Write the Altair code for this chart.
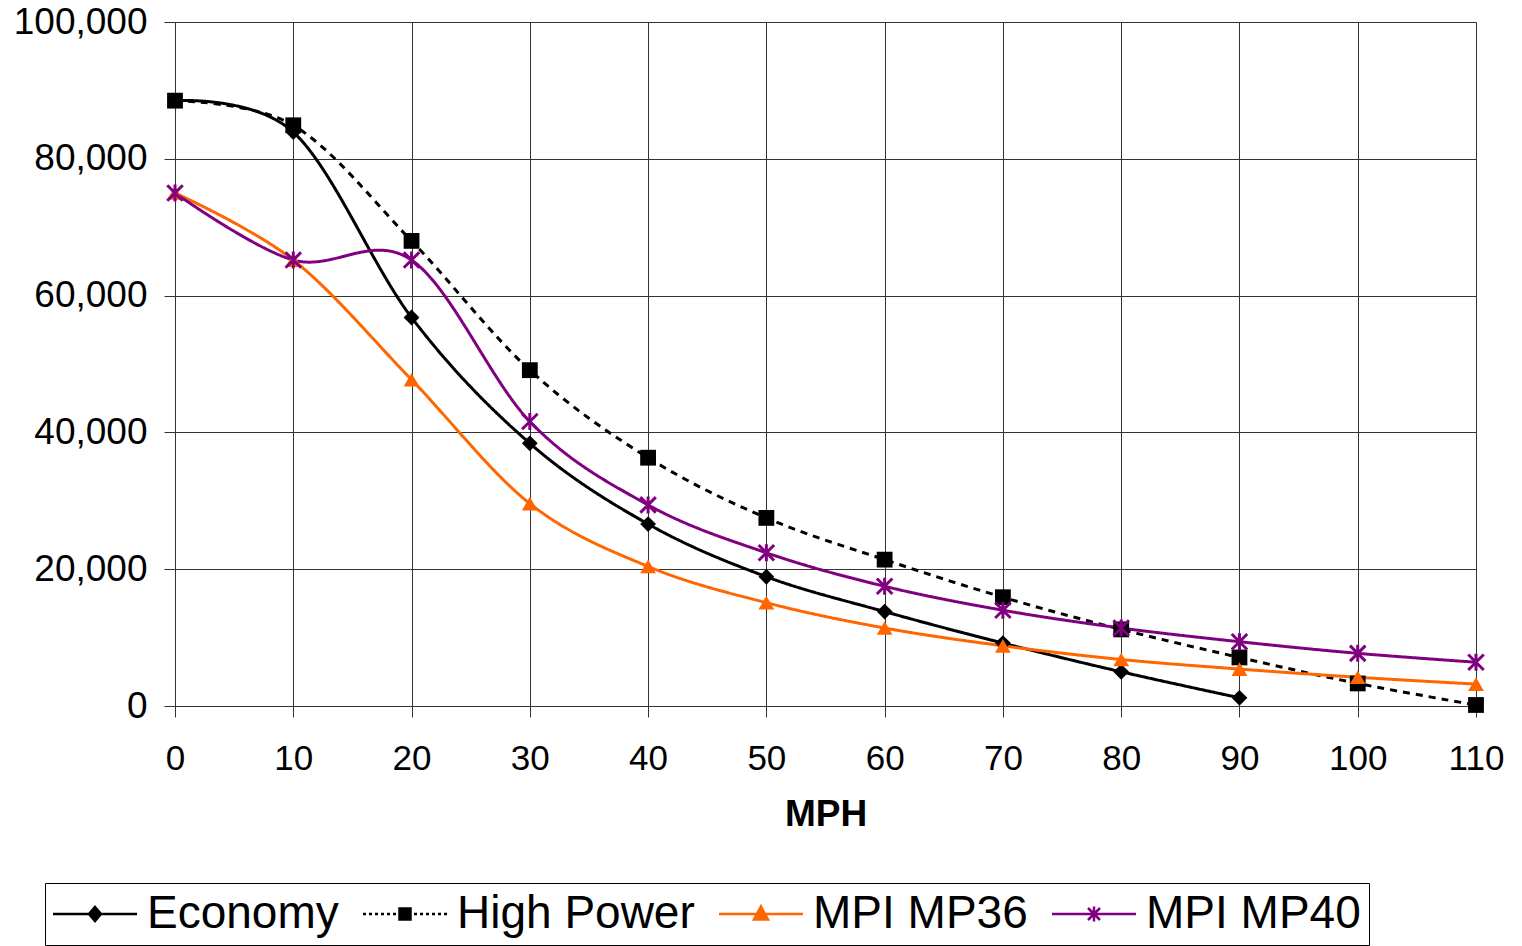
import altair as alt
import pandas as pd

mph = [0, 10, 20, 30, 40, 50, 60, 70, 80, 90, 100, 110]
economy = [88500, 83900, 56800, 38400, 26600, 18900, 13800, 9200, 5000, 1200, None, None]
high_power = [88500, 84900, 68000, 49100, 36300, 27500, 21400, 15900, 11200, 7100, 3300, 150]
mp36 = [75000, 65200, 47700, 29600, 20400, 15100, 11400, 8800, 6800, 5400, 4200, 3200]
mp40 = [75000, 65200, 65200, 41600, 29400, 22400, 17500, 14000, 11400, 9400, 7700, 6400]

series = ["Economy", "High Power", "MPI MP36", "MPI MP40"]
colors = ["#000000", "#000000", "#FF6600", "#800080"]
y_ticks = [0, 20000, 40000, 60000, 80000, 100000]
x_ticks = mph

rows = []
for name, vals in zip(series, [economy, high_power, mp36, mp40]):
    for x, v in zip(mph, vals):
        if v is not None:
            rows.append({"mph": x, "val": v, "series": name})
df = pd.DataFrame(rows)

FONT = "Liberation Sans"
GRID = "#333333"
ASTERISK = "M-1,-1L1,1M-1,1L1,-1M0,-1.1L0,1.1"

legend_paths = [
    "M-4.2,0L4.2,0M0,-0.7L0.6,0L0,0.7L-0.6,0Z",
    "M-4.2,0L-3.9,0M-3.6,0L-3.3,0M-3.0,0L-2.7,0M-2.4,0L-2.1,0M-1.8,0L-1.5,0M-1.2,0L-0.9,0"
    "M0.9,0L1.2,0M1.5,0L1.8,0M2.1,0L2.4,0M2.7,0L3.0,0M3.3,0L3.6,0M3.9,0L4.2,0"
    "M-0.55,-0.55L0.55,-0.55L0.55,0.55L-0.55,0.55Z",
    "M-4.2,0L4.2,0M0,-0.75L0.7,0.55L-0.7,0.55Z",
    "M-4.2,0L4.2,0M-0.6,-0.6L0.6,0.6M-0.6,0.6L0.6,-0.6M0,-0.75L0,0.75",
]

x_enc = alt.X(
    "mph:Q",
    scale=alt.Scale(domain=[0, 110], nice=False),
    axis=alt.Axis(
        values=x_ticks, format=".0f", title="MPH", titleFontSize=37, titleFontWeight="bold",
        titleFont=FONT, titlePadding=20, labelFontSize=35, labelFont=FONT,
        labelPadding=24, tickSize=11, labelFlush=False, labelOverlap=False,
        grid=True, gridColor=GRID, gridOpacity=1, gridWidth=1,
        domainColor=GRID, tickColor=GRID, labelColor="#000", titleColor="#000",
    ),
)
y_enc = alt.Y(
    "val:Q",
    scale=alt.Scale(domain=[0, 100000], nice=False),
    axis=alt.Axis(
        values=y_ticks, format=",.0f", title=None, labelFontSize=37, labelFont=FONT,
        labelPadding=17, tickSize=11, labelFlush=False, labelOverlap=False,
        grid=True, gridColor=GRID, gridOpacity=1, gridWidth=1,
        domainColor=GRID, tickColor=GRID, labelColor="#000",
    ),
)

base = alt.Chart(df).encode(x=x_enc, y=y_enc)

lines = base.mark_line(interpolate="cardinal", strokeWidth=3).encode(
    color=alt.Color("series:N", scale=alt.Scale(domain=series, range=colors), legend=None),
    strokeDash=alt.StrokeDash(
        "series:N",
        scale=alt.Scale(domain=series, range=[[1, 0], [7, 6], [1, 0], [1, 0]]),
        legend=None,
    ),
)

points_filled = base.transform_filter(
    alt.datum.series != "MPI MP40"
).mark_point(filled=True, opacity=1, size=250).encode(
    color=alt.Color("series:N", scale=alt.Scale(domain=series[:3], range=colors[:3]), legend=None),
    shape=alt.Shape(
        "series:N",
        scale=alt.Scale(domain=series[:3], range=["diamond", "square", "triangle-up"]),
        legend=None,
    ),
)

points_star = base.transform_filter(
    alt.datum.series == "MPI MP40"
).mark_point(shape=ASTERISK, filled=False, opacity=1, size=240, strokeWidth=3, color="#800080")

leg = alt.Legend(
    title=None, orient="none", legendX=-130, legendY=861, direction="horizontal",
    strokeColor="#000", padding=8, columnPadding=19, labelFontSize=46, labelFont=FONT,
    labelLimit=500, labelColor="#000", symbolSize=400, symbolStrokeWidth=2.5,
    symbolOffset=19, labelOffset=29, symbolOpacity=1, fillColor="#ffffff",
)
leg_scale_shape = alt.Scale(domain=series, range=legend_paths)

legend_layer = base.transform_filter("false").mark_point(
    filled=True, opacity=1, strokeWidth=2.5
).encode(
    fill=alt.Fill("series:N", scale=alt.Scale(domain=series, range=colors), legend=leg),
    stroke=alt.Stroke("series:N", scale=alt.Scale(domain=series, range=colors), legend=leg),
    shape=alt.Shape("series:N", scale=leg_scale_shape, legend=leg),
)

chart = alt.layer(lines, points_filled, points_star, legend_layer).resolve_scale(
    color="independent", shape="independent", fill="independent",
    stroke="independent", strokeDash="independent",
).properties(
    width=1301, height=684,
    autosize=alt.AutoSizeParams(type="none"),
    padding={"left": 175, "top": 22, "right": 46, "bottom": 240},
    background="#ffffff",
).configure_view(stroke="transparent").configure(font=FONT)

chart.save("out.html", embed_options={"renderer": "svg", "actions": False})
